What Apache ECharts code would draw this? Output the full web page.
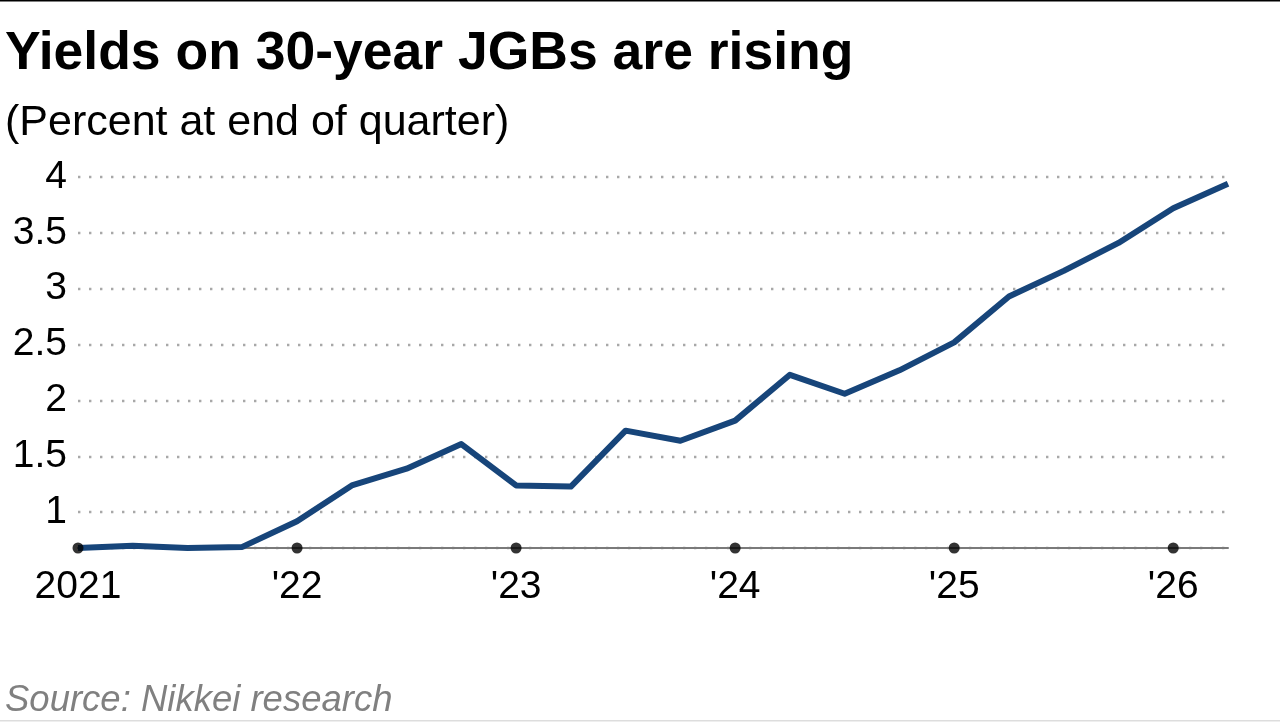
<!DOCTYPE html>
<html>
<head>
<meta charset="utf-8">
<script src="https://cdn.jsdelivr.net/npm/echarts@6/dist/echarts.min.js"></script>
<style>
  html, body { margin: 0; padding: 0; background: #fff; }
  #main { width: 1280px; height: 722px; }
</style>
</head>
<body>
<div id="main"></div>
<script>
var quarters = ['2021Q1', '2021Q2', '2021Q3', '2021Q4',
                '2022Q1', '2022Q2', '2022Q3', '2022Q4',
                '2023Q1', '2023Q2', '2023Q3', '2023Q4',
                '2024Q1', '2024Q2', '2024Q3', '2024Q4',
                '2025Q1', '2025Q2', '2025Q3', '2025Q4',
                '2026Q1', '2026Q2'];
var yields = [0.68, 0.70, 0.68, 0.69, 0.92, 1.24, 1.39, 1.61, 1.24, 1.23, 1.73,
              1.64, 1.82, 2.23, 2.06, 2.27, 2.52, 2.93, 3.16, 3.41, 3.72, 3.94];
var yearLabels = ['2021', "'22", "'23", "'24", "'25", "'26"];
var axisMin = 0.68;
var axisMax = 4;

var font = 'Liberation Sans, Arial, sans-serif';

// dots sitting on the x axis at each year start
var yearDots = [];
for (var i = 0; i < quarters.length; i += 4) {
    yearDots.push([quarters[i], axisMin]);
}

var myChart = echarts.init(document.getElementById('main'));

var option = {
    backgroundColor: '#fff',
    animation: false,
    title: [
        {
            text: 'Yields on 30-year JGBs are rising',
            left: 0, top: 22,
            textStyle: { fontFamily: font, fontSize: 53.5, fontWeight: 'bold', color: '#000' }
        },
        {
            text: '(Percent at end of quarter)',
            left: 0, top: 97,
            textStyle: { fontFamily: font, fontSize: 43, fontWeight: 'normal', color: '#000' }
        },
        {
            text: 'Source: Nikkei research',
            left: 0, top: 677,
            textStyle: { fontFamily: font, fontSize: 36.5, fontWeight: 'normal', fontStyle: 'italic', color: '#808080' }
        }
    ],
    graphic: [
        { type: 'rect', left: 0, top: 0, shape: { width: 1280, height: 1.5 }, style: { fill: '#000' } },
        { type: 'rect', left: 0, top: 720, shape: { width: 1280, height: 1.5 }, style: { fill: '#ddd' } }
    ],
    grid: {
        left: 78,
        right: 52,
        top: 177,
        bottom: 174
    },
    xAxis: {
        type: 'category',
        data: quarters,
        boundaryGap: false,
        axisLine: { lineStyle: { color: '#7a7a7a', width: 2 } },
        axisTick: { show: false },
        axisLabel: {
            interval: 3,
            margin: 20,
            fontFamily: font,
            fontSize: 39,
            color: '#000',
            formatter: function (v, idx) {
                return idx % 4 === 0 ? yearLabels[idx / 4] : '';
            }
        },
        splitLine: { show: false }
    },
    yAxis: {
        type: 'value',
        min: axisMin,
        max: axisMax,
        splitNumber: 6,
        axisLine: { show: false },
        axisTick: { show: false },
        axisLabel: {
            margin: 11,
            showMinLabel: false,
            fontFamily: font,
            fontSize: 39,
            color: '#000'
        },
        splitLine: {
            lineStyle: { color: '#a8a8a8', width: 2.4, type: [2.4, 8.6] }
        }
    },
    series: [
        {
            name: '30-year JGB',
            type: 'line',
            data: yields,
            symbol: 'none',
            lineStyle: { color: '#17457a', width: 6, join: 'round' },
            z: 3
        },
        {
            type: 'scatter',
            data: yearDots,
            symbol: 'circle',
            symbolSize: 11,
            itemStyle: { color: '#000' },
            z: 4,
            silent: true
        }
    ]
};
myChart.setOption(option);
</script>
</body>
</html>
